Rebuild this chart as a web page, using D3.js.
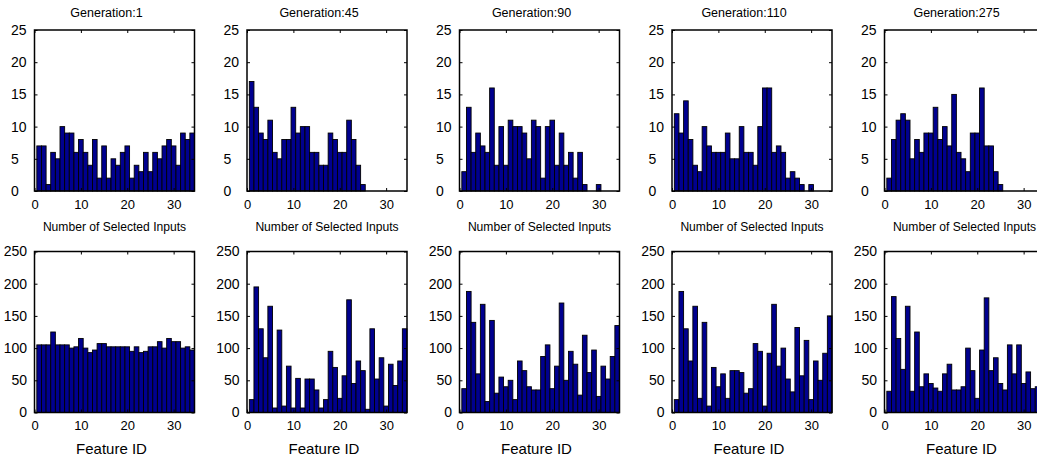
<!DOCTYPE html>
<html>
<head>
<meta charset="utf-8">
<script src="https://cdn.jsdelivr.net/npm/d3@7"></script>
<style>
body { margin: 0; background: #fff; overflow: hidden; }
text { font-family: "Liberation Sans", Arial, sans-serif; fill: #000; }
</style>
</head>
<body>
<div id="chart"></div>
<script>
// panel titles
var generations = [1, 45, 90, 110, 275];

// bins (number of selected inputs) and feature ids
var binIds = [1,2,3,4,5,6,7,8,9,10,11,12,13,14,15,16,17,18,19,20,21,22,23,24,25,26,27,28,29,30,31,32,33,34];
var featureIds = [1,2,3,4,5,6,7,8,9,10,11,12,13,14,15,16,17,18,19,20,21,22,23,24,25,26,27,28,29,30,31,32,33,34];

// top row: histogram of number of selected inputs
var inputsGen1   = [7,7,1,6,5,10,9,9,6,8,6,4,8,2,7,2,5,4,6,7,2,4,3,6,3,6,5,7,8,7,4,9,8,9];
var inputsGen45  = [17,13,9,8,11,6,5,8,8,13,9,10,10,6,6,4,4,9,8,6,6,11,8,4,1,0,0,0,0,0,0,0,0,0];
var inputsGen90  = [3,13,6,9,7,6,16,4,10,4,11,10,10,9,5,11,10,2,10,11,4,9,4,6,2,6,1,0,0,1,0,0,0,0];
var inputsGen110 = [12,9,14,8,4,3,10,7,6,6,6,9,5,5,10,6,6,4,10,16,16,6,7,6,2,3,2,1,0,1,0,0,0,0];
var inputsGen275 = [2,8,11,12,11,5,8,6,9,9,13,8,10,7,15,6,5,3,9,9,16,7,7,3,1,0,0,0,0,0,0,0,0,0];

// bottom row: how often each feature was selected
var featuresGen1   = [105,105,105,125,105,105,105,100,102,115,100,93,97,107,107,102,102,102,102,102,95,102,93,95,102,102,110,100,115,110,110,100,102,97];
var featuresGen45  = [20,195,130,85,165,7,128,10,72,7,53,7,52,52,35,7,20,95,70,22,57,175,45,80,65,5,130,52,85,10,75,42,80,130];
var featuresGen90  = [37,188,140,60,168,17,143,30,55,40,50,20,80,65,40,35,35,87,105,37,72,170,50,95,75,27,120,62,97,25,72,52,87,135];
var featuresGen110 = [20,188,130,80,165,22,140,10,70,40,60,22,65,65,62,30,37,107,95,10,92,168,72,100,52,32,132,57,112,20,80,50,92,150];
var featuresGen275 = [33,180,115,67,165,33,125,40,60,45,38,33,60,75,35,35,40,100,65,22,97,178,65,85,45,35,105,60,105,45,63,37,40,110];

var inputCounts = [inputsGen1, inputsGen45, inputsGen90, inputsGen110, inputsGen275];
var featureCounts = [featuresGen1, featuresGen45, featuresGen90, featuresGen110, featuresGen275];

var xTicks = [0, 10, 20, 30];
var inputTicks = [0, 5, 10, 15, 20, 25];
var featureTicks = [0, 50, 100, 150, 200, 250];

var width = 1037,
    height = 458,
    left0 = 34.5,
    step = 212.5,
    pw = 160,
    ph = 161,
    topY = 30,
    bottomY = 251.5,
    barColor = '#00008f';

var svg = d3.select('#chart').append('svg')
    .attr('width', width)
    .attr('height', height);

var x = d3.scaleLinear().domain([0, 34.5]).range([0, pw]);

function drawPanel(g, ids, values, yTicks, isTop) {
    var y = d3.scaleLinear().domain([0, yTicks[yTicks.length - 1]]).range([ph, 0]);

    g.append('g').selectAll('rect.bar')
        .data(values)
        .enter()
        .append('rect')
        .attr('class', 'bar')
        .attr('x', function (d, i) { return x(ids[i] - 0.5); })
        .attr('width', x(1) - x(0))
        .attr('y', function (d) { return y(d); })
        .attr('height', function (d) { return ph - y(d); })
        .attr('fill', barColor)
        .attr('stroke', '#000')
        .attr('stroke-width', 0.9);

    var xb = g.append('g').attr('transform', 'translate(0,' + ph + ')')
        .call(d3.axisBottom(x).tickValues(xTicks).tickSizeInner(-3).tickSizeOuter(0).tickPadding(8.3));
    var xt = g.append('g')
        .call(d3.axisTop(x).tickValues(xTicks).tickSizeInner(-3).tickSizeOuter(0).tickFormat(''));
    var yl = g.append('g')
        .call(d3.axisLeft(y).tickValues(yTicks).tickSizeInner(-3).tickSizeOuter(0).tickPadding(7.5));
    var yr = g.append('g').attr('transform', 'translate(' + pw + ',0)')
        .call(d3.axisRight(y).tickValues(yTicks).tickSizeInner(-3).tickSizeOuter(0).tickFormat(''));

    [xb, xt, yl, yr].forEach(function (a) {
        a.select('.domain').remove();
        a.selectAll('line').attr('stroke', '#000').attr('stroke-width', 1);
    });
    xb.selectAll('text').style('font-size', '13px').attr('font-family', null);
    yl.selectAll('text').style('font-size', '14px').attr('font-family', null);
    if (isTop) {
        yl.selectAll('text').attr('text-anchor', 'start').attr('x', -23.5);
    }

    g.append('rect')
        .attr('width', pw)
        .attr('height', ph)
        .attr('fill', 'none')
        .attr('stroke', '#000')
        .attr('stroke-width', 1.5);
}

generations.forEach(function (gen, i) {
    var gx = left0 + i * step;

    var top = svg.append('g').attr('transform', 'translate(' + gx + ',' + topY + ')');
    drawPanel(top, binIds, inputCounts[i], inputTicks, true);
    top.append('text')
        .attr('x', pw / 2 - 8)
        .attr('y', -12.7)
        .attr('text-anchor', 'middle')
        .style('font-size', '12.5px')
        .text('Generation:' + gen);
    top.append('text')
        .attr('x', pw / 2)
        .attr('y', ph + 40)
        .attr('text-anchor', 'middle')
        .style('font-size', '12.1px')
        .text('Number of Selected Inputs');

    var bot = svg.append('g').attr('transform', 'translate(' + gx + ',' + bottomY + ')');
    drawPanel(bot, featureIds, featureCounts[i], featureTicks, false);
    bot.append('text')
        .attr('x', pw / 2 - 3)
        .attr('y', ph + 41.5)
        .attr('text-anchor', 'middle')
        .style('font-size', '15px')
        .text('Feature ID');
});
</script>
</body>
</html>
